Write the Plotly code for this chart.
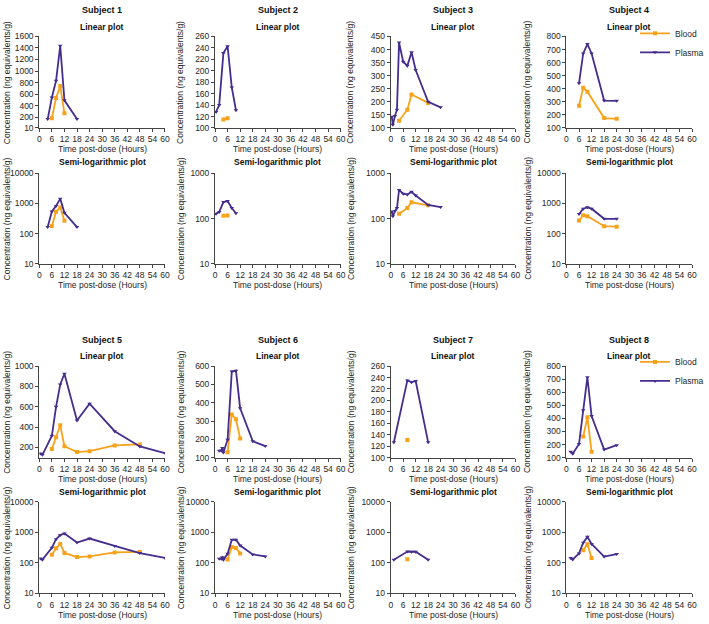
import plotly.graph_objects as go

W, H = 709, 624

# ---------------- data: time (hours) / concentration (ng equivalents/g) ----------------
s1_plasma_t = [4, 6, 8, 10, 12, 18]
s1_plasma_c = [165, 540, 830, 1440, 490, 165]
s1_blood_t = [6, 8, 10, 12]
s1_blood_c = [180, 530, 740, 265]

s2_plasma_t = [0.5, 2, 4, 6, 8, 10]
s2_plasma_c = [128, 140, 231, 243, 171, 131]
s2_blood_t = [4, 6]
s2_blood_c = [115, 117]

s3_plasma_t = [0.5, 1, 2, 3, 4, 6, 8, 10, 12, 18, 24]
s3_plasma_c = [143, 112, 146, 170, 427, 353, 338, 390, 322, 200, 179]
s3_blood_t = [4, 8, 10, 18]
s3_blood_c = [128, 170, 228, 196]

s4_plasma_t = [6, 8, 10, 12, 18, 24]
s4_plasma_c = [443, 670, 742, 670, 310, 308]
s4_blood_t = [6, 8, 10, 18, 24]
s4_blood_c = [270, 408, 378, 176, 170]

s5_plasma_t = [0.5, 1.5, 6, 8, 10, 12, 18, 24, 36, 48, 60]
s5_plasma_c = [140, 128, 315, 600, 820, 925, 465, 630, 360, 210, 145]
s5_blood_t = [6, 8, 10, 12, 18, 24, 36, 48]
s5_blood_c = [185, 300, 418, 212, 155, 163, 220, 230]

s6_plasma_t = [2, 3, 3.5, 4, 6, 8, 10, 12, 18, 24]
s6_plasma_c = [138, 138, 152, 128, 198, 570, 575, 370, 190, 163]
s6_blood_t = [6, 8, 10, 12]
s6_blood_c = [130, 335, 310, 205]

s7_plasma_t = [1.5, 8, 10, 12, 18]
s7_plasma_c = [127, 235, 232, 234, 127]
s7_blood_t = [8]
s7_blood_c = [131]

s8_plasma_t = [2, 3, 6, 8, 10, 12, 18, 24]
s8_plasma_c = [145, 130, 205, 462, 715, 418, 162, 195]
s8_blood_t = [8, 10, 12]
s8_blood_c = [262, 408, 145]

subjects = ["Subject 1", "Subject 2", "Subject 3", "Subject 4",
            "Subject 5", "Subject 6", "Subject 7", "Subject 8"]
x_ticks = [0, 6, 12, 18, 24, 30, 36, 42, 48, 54, 60]

# linear-axis settings per subject
lin_ranges = [[10, 1600], [100, 260], [100, 450], [100, 800],
              [100, 1000], [100, 600], [100, 260], [100, 800]]
lin_ticks = [[10, 200, 400, 600, 800, 1000, 1200, 1400, 1600],
             list(range(100, 261, 20)),
             list(range(100, 451, 50)),
             list(range(100, 801, 100)),
             [200, 400, 600, 800, 1000],
             list(range(100, 601, 100)),
             list(range(100, 261, 20)),
             list(range(100, 801, 100))]
log_tops = [4, 3, 3, 4, 4, 4, 4, 4]

series = [
    (s1_blood_t, s1_blood_c, s1_plasma_t, s1_plasma_c),
    (s2_blood_t, s2_blood_c, s2_plasma_t, s2_plasma_c),
    (s3_blood_t, s3_blood_c, s3_plasma_t, s3_plasma_c),
    (s4_blood_t, s4_blood_c, s4_plasma_t, s4_plasma_c),
    (s5_blood_t, s5_blood_c, s5_plasma_t, s5_plasma_c),
    (s6_blood_t, s6_blood_c, s6_plasma_t, s6_plasma_c),
    (s7_blood_t, s7_blood_c, s7_plasma_t, s7_plasma_c),
    (s8_blood_t, s8_blood_c, s8_plasma_t, s8_plasma_c),
]

BLOOD = "#F7A21B"
PLASMA = "#452D8E"
FONT = "Liberation Sans, Arial, sans-serif"
FS = 8.5
AX = "#444444"
TXT = "#262626"

# ---------------- layout geometry (pixels) ----------------
col_l = [38, 217, 396, 575]
col_r = [166, 345, 523, 703]
ytitle_x = [5, 182, 355, 535]
blocks = [
    dict(subj_y=5, lin_title_y=22, lin=(32, 125), log_title_y=160, log=(171, 263)),
    dict(subj_y=340, lin_title_y=357, lin=(367, 460), log_title_y=495, log=(505, 598)),
]


def xdom(c):
    return [col_l[c] / W, col_r[c] / W]


def ydom(top, bot):
    return [1 - bot / H, 1 - top / H]


fig = go.Figure()
layout = {}
annotations = []

axis_common = dict(showline=True, linecolor=AX, linewidth=1, ticks="outside",
                   ticklen=3, tickcolor=AX, tickwidth=1, showgrid=False, zeroline=False,
                   tickfont=dict(family=FONT, size=FS, color=TXT))

ax_idx = 0
for si in range(8):
    b = blocks[si // 4]
    c = si % 4
    bt, bc, pt, pc = series[si]
    for kind in ("lin", "log"):
        ax_idx += 1
        xa = "xaxis" if ax_idx == 1 else f"xaxis{ax_idx}"
        ya = "yaxis" if ax_idx == 1 else f"yaxis{ax_idx}"
        xr = "x" if ax_idx == 1 else f"x{ax_idx}"
        yr = "y" if ax_idx == 1 else f"y{ax_idx}"
        top, bot = b[kind]
        layout[xa] = dict(domain=xdom(c), anchor=yr, range=[0, 60], tickvals=x_ticks,
                          **axis_common)
        if kind == "lin":
            layout[ya] = dict(domain=ydom(top, bot), anchor=xr, range=lin_ranges[si],
                              tickvals=lin_ticks[si], **axis_common)
        else:
            layout[ya] = dict(domain=ydom(top, bot), anchor=xr, type="log",
                              range=[1, log_tops[si]],
                              tickvals=[10 ** k for k in range(1, log_tops[si] + 1)],
                              ticktext=[str(10 ** k) for k in range(1, log_tops[si] + 1)],
                              **axis_common)
        show = kind == "lin" and si in (3, 7)
        leg = "legend" if si == 3 else "legend2"
        fig.add_trace(go.Scatter(x=bt, y=bc, mode="lines+markers", name="Blood",
                                 line=dict(color=BLOOD, width=1.8),
                                 marker=dict(symbol="square", size=4, color=BLOOD),
                                 xaxis=xr, yaxis=yr, showlegend=show, legend=leg))
        fig.add_trace(go.Scatter(x=pt, y=pc, mode="lines+markers", name="Plasma",
                                 line=dict(color=PLASMA, width=1.8),
                                 marker=dict(symbol="triangle-down", size=4, color=PLASMA),
                                 xaxis=xr, yaxis=yr, showlegend=show, legend=leg))
        cx = (col_l[c] + col_r[c]) / 2 / W
        ty = b["lin_title_y"] if kind == "lin" else b["log_title_y"]
        annotations.append(dict(xref="paper", yref="paper", x=cx, y=1 - ty / H,
                                text="<b>Linear plot</b>" if kind == "lin" else "<b>Semi-logarithmic plot</b>",
                                showarrow=False, xanchor="center", yanchor="middle",
                                font=dict(family=FONT, size=8.5, color="#111111")))
        annotations.append(dict(xref="paper", yref="paper", x=cx, y=1 - (bot + 21.5) / H,
                                text="Time post-dose (Hours)", showarrow=False,
                                xanchor="center", yanchor="middle",
                                font=dict(family=FONT, size=FS, color=TXT)))
        annotations.append(dict(xref="paper", yref="paper", x=ytitle_x[c] / W,
                                y=1 - (top + bot) / 2 / H, textangle=-90,
                                text="Concentration (ng equivalents/g)", showarrow=False,
                                xanchor="center", yanchor="middle",
                                font=dict(family=FONT, size=FS, color=TXT)))
    annotations.append(dict(xref="paper", yref="paper", x=(col_l[c] + col_r[c]) / 2 / W,
                            y=1 - b["subj_y"] / H, text=f"<b>{subjects[si]}</b>",
                            showarrow=False, xanchor="center", yanchor="middle",
                            font=dict(family=FONT, size=9, color="#111111")))

legend_style = dict(xanchor="left", yanchor="top", bgcolor="rgba(0,0,0,0)",
                    font=dict(family=FONT, size=FS, color=TXT), tracegroupgap=0,
                    itemwidth=30)
layout["legend"] = dict(x=645 / W, y=1 - 14 / H, **legend_style)
layout["legend2"] = dict(x=645 / W, y=1 - 348 / H, **legend_style)

fig.update_layout(width=W, height=H, margin=dict(l=0, r=0, t=0, b=0),
                  paper_bgcolor="white", plot_bgcolor="white",
                  annotations=annotations, **layout)

fig.write_html("out.html", config={"displayModeBar": False},
               post_script="document.body.style.margin='0px';")
